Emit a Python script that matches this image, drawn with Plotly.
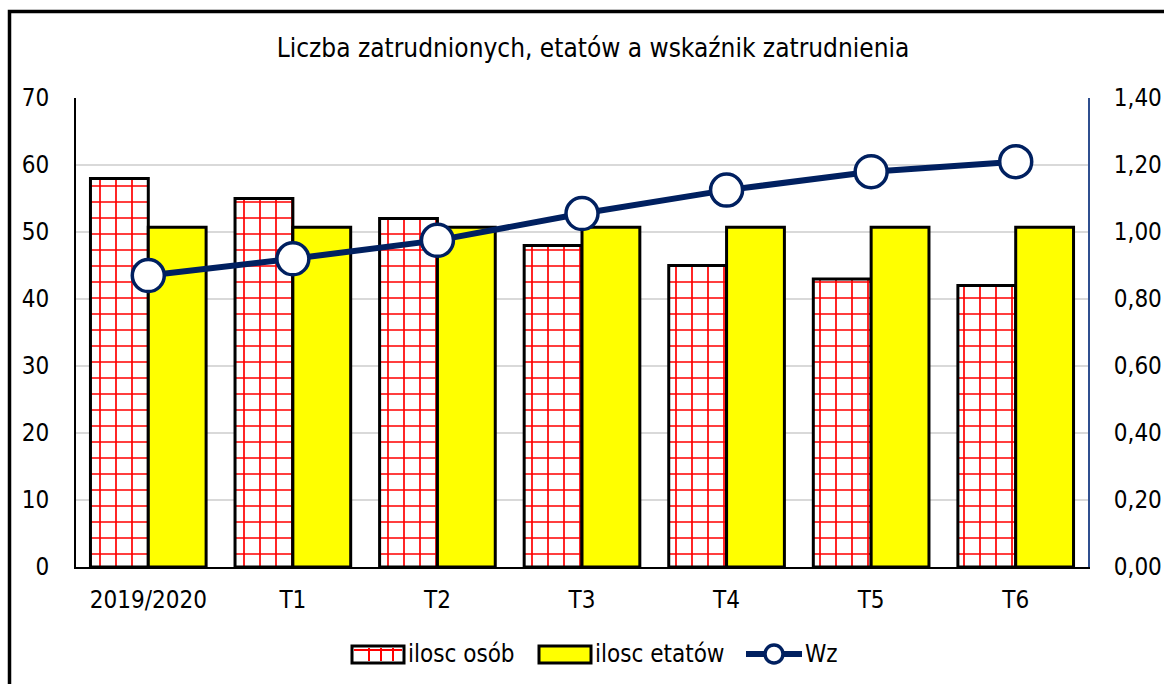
import plotly.graph_objects as go

categories = ["2019/2020", "T1", "T2", "T3", "T4", "T5", "T6"]
ilosc_osob = [58, 55, 52, 48, 45, 43, 42]
ilosc_etatow = [50.7, 50.7, 50.7, 50.7, 50.7, 50.7, 50.7]
wz = [0.87, 0.92, 0.975, 1.055, 1.125, 1.18, 1.21]
left_ticks = [0, 10, 20, 30, 40, 50, 60, 70]
right_ticks = [0, 0.2, 0.4, 0.6, 0.8, 1.0, 1.2, 1.4]
right_labels = ["0,00", "0,20", "0,40", "0,60", "0,80", "1,00", "1,20", "1,40"]
series_names = ["ilosc osób", "ilosc etatów", "Wz"]

FONT = "DejaVu Sans Condensed"
FS = 24
W, H = 1164, 684
ML, MR, MT, MB = 76, 76, 98, 117
PW, PH = W - ML - MR, H - MT - MB
NAVY = "#002060"


def px_x(p):
    return (p - ML) / PW


def px_y(p):
    return (H - MB - p) / PH


fig = go.Figure()
fig.add_trace(go.Bar(
    x=categories, y=ilosc_osob, name=series_names[0],
    marker=dict(color="white", line=dict(color="black", width=3),
                pattern=dict(shape="+", fgcolor="#ff0000", bgcolor="white",
                             size=16, solidity=0.2, fillmode="replace")),
))
fig.add_trace(go.Bar(
    x=categories, y=ilosc_etatow, name=series_names[1],
    marker=dict(color="#ffff00", line=dict(color="black", width=3)),
))
fig.add_trace(go.Scatter(
    x=categories, y=wz, name=series_names[2], yaxis="y2", mode="lines+markers",
    line=dict(color=NAVY, width=6),
    marker=dict(size=32, color="white", line=dict(color=NAVY, width=3.5)),
))

shapes = []
# outer chart border
shapes.append(dict(type="rect", xref="paper", yref="paper",
                   x0=px_x(9.5), x1=px_x(1175), y0=px_y(695), y1=px_y(11.5),
                   line=dict(color="black", width=3.5), layer="below"))

# custom legend
ly = 654
shapes.append(dict(type="rect", xref="paper", yref="paper",
                   x0=px_x(352), x1=px_x(404), y0=px_y(663), y1=px_y(646),
                   fillcolor="white", line=dict(color="black", width=3)))
shapes.append(dict(type="line", xref="paper", yref="paper",
                   x0=px_x(354), x1=px_x(402), y0=px_y(650), y1=px_y(650),
                   line=dict(color="#ff0000", width=2)))
for vx in (369, 381, 393):
    shapes.append(dict(type="line", xref="paper", yref="paper",
                       x0=px_x(vx), x1=px_x(vx), y0=px_y(661), y1=px_y(648),
                       line=dict(color="#ff0000", width=2)))
shapes.append(dict(type="rect", xref="paper", yref="paper",
                   x0=px_x(539), x1=px_x(591), y0=px_y(663), y1=px_y(646),
                   fillcolor="#ffff00", line=dict(color="black", width=3)))
shapes.append(dict(type="line", xref="paper", yref="paper",
                   x0=px_x(746), x1=px_x(802), y0=px_y(ly), y1=px_y(ly),
                   line=dict(color=NAVY, width=6)))
shapes.append(dict(type="circle", xref="paper", yref="paper",
                   x0=px_x(765), x1=px_x(783), y0=px_y(663), y1=px_y(645),
                   fillcolor="white", line=dict(color=NAVY, width=3.5)))

annotations = [
    dict(text=series_names[0], x=px_x(406), y=px_y(ly), xref="paper", yref="paper",
         xanchor="left", yanchor="middle", showarrow=False, font=dict(size=FS)),
    dict(text=series_names[1], x=px_x(593), y=px_y(ly), xref="paper", yref="paper",
         xanchor="left", yanchor="middle", showarrow=False, font=dict(size=FS)),
    dict(text=series_names[2], x=px_x(803), y=px_y(ly), xref="paper", yref="paper",
         xanchor="left", yanchor="middle", showarrow=False, font=dict(size=FS)),
]

fig.update_layout(
    width=W, height=H, autosize=False,
    margin=dict(l=ML, r=MR, t=MT, b=MB, autoexpand=False),
    paper_bgcolor="white", plot_bgcolor="white",
    font=dict(family=FONT, color="black", size=FS),
    title=dict(text="Liczba zatrudnionych, etatów a wskaźnik zatrudnienia",
               x=593 / W, xanchor="center", y=1 - 48 / H, yanchor="middle",
               automargin=False,
               font=dict(size=26, family=FONT, color="black")),
    barmode="group", bargap=0.2, bargroupgap=0,
    xaxis=dict(showline=True, linecolor="black", linewidth=2, automargin=False,
               ticks="outside", ticklen=10, tickcolor="white",
               tickfont=dict(size=FS), showgrid=False),
    yaxis=dict(range=[0, 70], tickvals=left_ticks, showgrid=True,
               gridcolor="#d9d9d9", gridwidth=2, showline=True, automargin=False,
               linecolor="black", linewidth=2, zeroline=False,
               tickfont=dict(size=FS), ticks="outside", ticklen=20,
               tickcolor="white"),
    yaxis2=dict(range=[0, 1.4], tickvals=right_ticks, ticktext=right_labels,
                overlaying="y", side="right", showgrid=False, automargin=False,
                showline=True, linecolor="#2f4f8f", linewidth=2,
                zeroline=False, tickfont=dict(size=FS), ticks="outside",
                ticklen=19, tickcolor="white"),
    shapes=shapes,
    annotations=annotations,
    showlegend=False,
)

fig.write_html("out.html", config={"displayModeBar": False},
               post_script="document.body.style.margin='0px';")
